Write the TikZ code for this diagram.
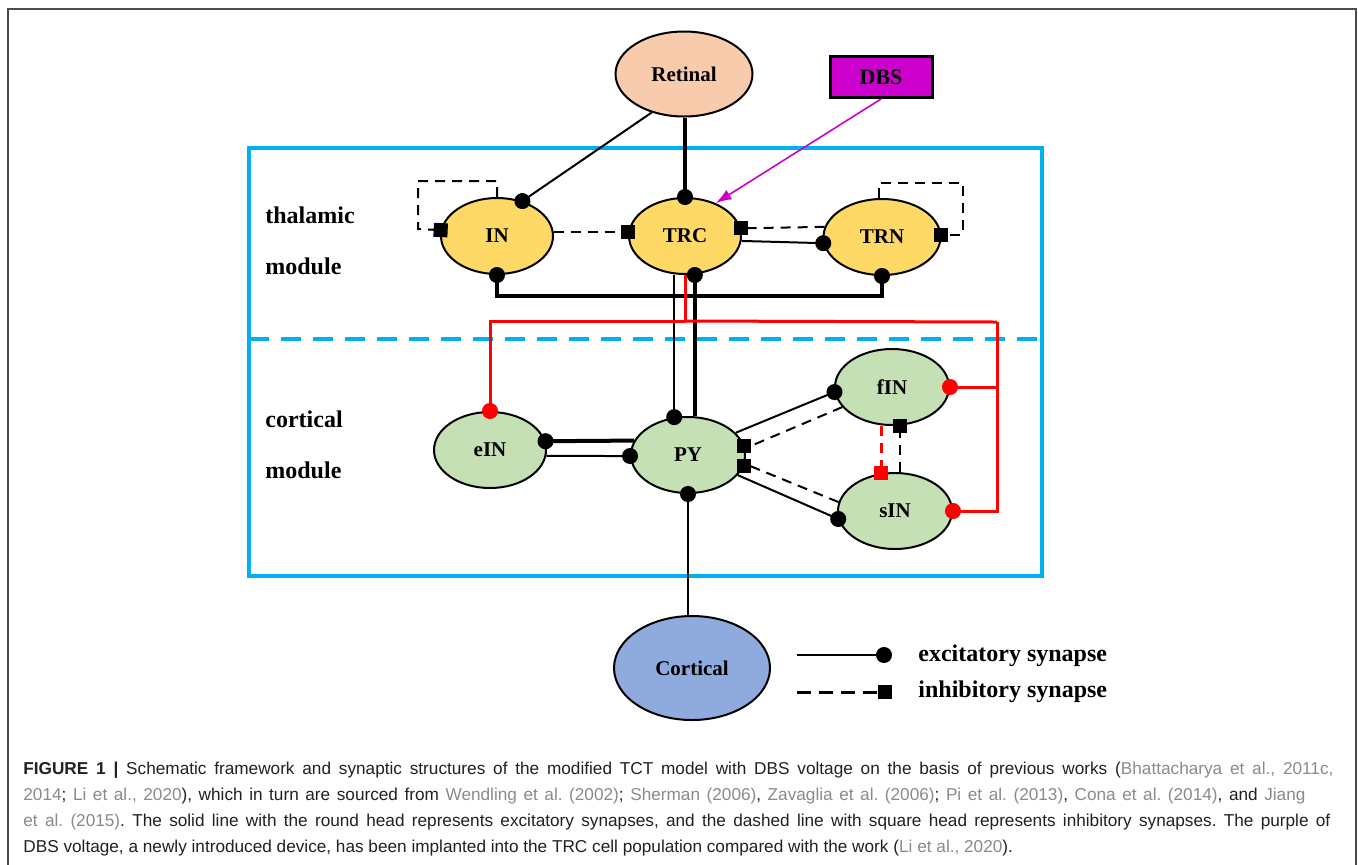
\documentclass[tikz,border=0pt]{standalone}
\usepackage{fontspec}
\setmainfont{Liberation Serif}
\newfontfamily\capfont{Liberation Sans}
\usetikzlibrary{shapes.geometric,arrows.meta,calc}

\definecolor{retpeach}{HTML}{F8CBAD}
\definecolor{thalyellow}{HTML}{FFD966}
\definecolor{cortgreen}{HTML}{C5E0B4}
\definecolor{cortblue}{HTML}{8FAADC}
\definecolor{dbsmag}{HTML}{CC00CC}
\definecolor{boxblue}{HTML}{00B0F0}
\definecolor{citegray}{HTML}{8A8A8A}
\definecolor{capblack}{HTML}{231F20}
\newcommand{\cit}[1]{\textcolor{citegray}{#1}}

\tikzset{
  cell/.style={ellipse, draw, line width=1pt, inner sep=0pt, minimum width=56pt, minimum height=38pt, font=\bfseries\fontsize{10.5}{12}\selectfont},
  thal/.style={cell, fill=thalyellow},
  cort/.style={cell, fill=cortgreen},
  exc/.style={line width=1pt, -{Circle[length=8pt]}, shorten >=-4pt},
  excthick/.style={exc, line width=2pt},
  redexc/.style={exc, red, line width=1.5pt},
  inh/.style={line width=1pt, dash pattern=on 5pt off 3.5pt, -{Square[length=7pt,width=7pt]}, shorten >=-3.5pt},
  modlabel/.style={anchor=west, inner sep=0pt, font=\bfseries\fontsize{12}{14}\selectfont},
  legtext/.style={anchor=west, inner sep=0pt, font=\bfseries\fontsize{12}{14}\selectfont},
  capline/.style={anchor=base west, inner sep=0pt, font=\capfont\fontsize{8.6}{10}\selectfont\frenchspacing, text=capblack},
}

\begin{document}
\begin{tikzpicture}[x=0.5pt,y=-0.5pt]
\useasboundingbox (0,0) rectangle (1358,864);
\draw[line width=1pt, black!70] (8,880) -- (8,9) -- (1356,9) -- (1356,880);

% modules
\draw[boxblue, line width=2pt] (249,148) rectangle (1042,576);
\draw[boxblue, line width=2pt, dash pattern=on 10pt off 6pt] (249,339) -- (1042,339);
\foreach \y/\t in {215/thalamic,266/module,419/cortical,470/module}
	\node[modlabel] (lab\y) at (265,\y) {\t};

% populations
\node[cell, fill=retpeach, minimum width=68.5pt, minimum height=42.5pt] (Retinal) at (684,74) {Retinal};
\node[draw, line width=1.5pt, fill=dbsmag, minimum width=51pt, minimum height=20.5pt, inner sep=0pt, font=\bfseries\fontsize{11}{12}\selectfont] (DBS) at (881,77) {DBS};
\node[thal] (IN) at (497,236) {IN};
\node[thal] (TRC) at (685,236) {TRC};
\node[thal, minimum width=58.5pt] (TRN) at (882,237) {TRN};
\node[cort] (eIN) at (490,450) {eIN};
\node[cort, minimum width=57pt] (PY) at (688,455) {PY};
\node[cort, minimum width=57pt] (fIN) at (892,387) {fIN};
\node[cort, minimum width=57pt] (sIN) at (895,511) {sIN};
\node[cell, fill=cortblue, minimum width=78pt, minimum height=52pt] (Cortical) at (692,668) {Cortical};

% thalamic connections
\draw[exc] (Retinal.230) -- (IN.54);
\draw[excthick] (TRC.north |- Retinal.south) -- (TRC.north);
\draw[dbsmag, line width=0.8pt, -{Latex[length=8pt,width=5.5pt]}] (DBS.south) -- (TRC.47);
\draw[inh] (IN.90) -- ++(0,-16) -| ++(-79,48) -- (IN.174);
\draw[inh] (IN.4) -- (TRC.176);
\draw[inh] (TRN.170) -- ([xshift=3pt]TRC.8) -- (TRC.8);
\draw[exc] (TRC.355) -- (TRN.186);
\draw[inh] (TRN.95) -- ++(0,-15) -- ++(84,0) |- (TRN.2);
\draw[excthick, {Circle[length=8pt]}-{Circle[length=8pt]}, shorten <=-4pt] (IN.south) -- ++(0,21) -| (TRN.south);

% thalamo-cortical
\draw[exc] (TRC.south -| PY.110) -- (PY.110);
\draw[excthick] (PY.80) -- (PY.80 |- TRC.south);
\draw[red, line width=1.5pt] (TRC.south) -- ++(0,46) coordinate (redbus);
\coordinate (redR) at (997,322);
\draw[redexc] (redbus) -| (eIN.north);
\draw[red, line width=1.5pt] (redbus) -- (redR);
\draw[redexc] (redR) |- (sIN.east);
\draw[redexc] (redR |- fIN.east) -- (fIN.east);

% cortical connections
\draw[excthick] (PY.165) -- (eIN.9);
\draw[exc] (eIN.354) -- (PY.181);
\draw[exc] (PY.25) -- (fIN.185);
\draw[inh] (fIN.202) -- ([xshift=3pt]PY.9) -- (PY.9);
\draw[inh] (sIN.171) -- ([xshift=3pt]PY.349) -- (PY.349);
\draw[exc] (PY.338) -- (sIN.188);
\draw[inh] (fIN.281 |- sIN.north) -- (fIN.281);
\draw[inh, red, line width=1.5pt] (sIN.110 |- fIN.south) -- (sIN.110);
\draw[exc] (PY.south |- Cortical.north) -- (PY.south);

% legend
\coordinate (excA) at (797,655);
\coordinate (excB) at (884,655);
\coordinate (inhA) at (797,692);
\coordinate (inhB) at (885,692);
\draw[exc, line width=1.3pt] (excA) -- (excB);
\draw[inh, line width=1.5pt, dash pattern=on 7pt off 4pt] (inhA) -- (inhB);
\node[legtext] (excl) at (918,656) {excitatory synapse};
\node[legtext] (inhl) at (918,692) {inhibitory synapse};

% caption
\node[capline] (cap1) at (23,774) {\hbox to 655pt{\textbf{FIGURE 1 |} Schematic framework and synaptic structures of the modified TCT model with DBS voltage on the basis of previous works (\cit{Bhattacharya et al., 2011c,}}};
\node[capline] (cap2) at (23,800) {\hbox to 641pt{\cit{2014}; \cit{Li et al., 2020}), which in turn are sourced from \cit{Wendling et al. (2002)}; \cit{Sherman (2006)}, \cit{Zavaglia et al. (2006)}; \cit{Pi et al. (2013)}, \cit{Cona et al. (2014)}, and \cit{Jiang}}};
\node[capline] (cap3) at (23,826) {\hbox to 653.5pt{\cit{et al. (2015)}. The solid line with the round head represents excitatory synapses, and the dashed line with square head represents inhibitory synapses. The purple of}};
\node[capline] (cap4) at (23,852) {DBS voltage, a newly introduced device, has been implanted into the TRC cell population compared with the work (\cit{Li et al., 2020}).};
\end{tikzpicture}
\end{document}
